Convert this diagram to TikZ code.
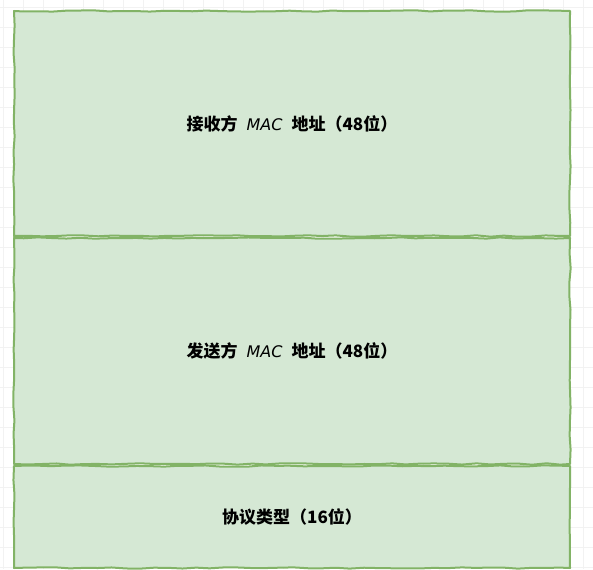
\documentclass[tikz,border=0pt]{standalone}
\usepackage{fontspec}
\usepackage{tikz}
\usetikzlibrary{calc,positioning,decorations.pathmorphing}
\newfontfamily\cjk{Noto Sans CJK SC}
\newfontfamily\macfont{DejaVu Sans}
\definecolor{cellfill}{HTML}{D5E8D4}
\definecolor{cellline}{HTML}{82B366}
\definecolor{gridgray}{HTML}{F2F2F2}
\tikzset{
  gridline/.style={gridgray, line width=0.8pt},
  field/.style={draw=cellline, fill=cellfill, line width=2pt, line join=round,
    decorate, decoration={random steps, segment length=14pt, amplitude=0.7pt},
    minimum width=556pt, inner sep=0pt, font=\cjk\bfseries\fontsize{17}{20}\selectfont},
}
\newcommand{\mac}{\hspace{9pt}{\macfont\mdseries\itshape\fontsize{16}{20}\selectfont MAC}\hspace{9pt}}
\begin{document}
\begin{tikzpicture}[x=1pt,y=-1pt]
\pgfmathsetseed{7}
\useasboundingbox (0,0) rectangle (593,569);
% background grid
\foreach \gx in {3,23,...,593} \draw[gridline] (\gx,0) -- (\gx,569);
\foreach \gy in {7,27,...,569} \draw[gridline] (0,\gy) -- (593,\gy);

\coordinate (top) at (292,10);
\node[field, minimum height=225pt, below=0pt of top] (dst) {接收方\mac 地址（48位）};
\node[field, minimum height=226pt, below=0pt of dst] (src) {发送方\mac 地址（48位）};
\node[field, minimum height=102pt, below=0pt of src] (type) {协议类型（16位）};
\end{tikzpicture}
\end{document}
